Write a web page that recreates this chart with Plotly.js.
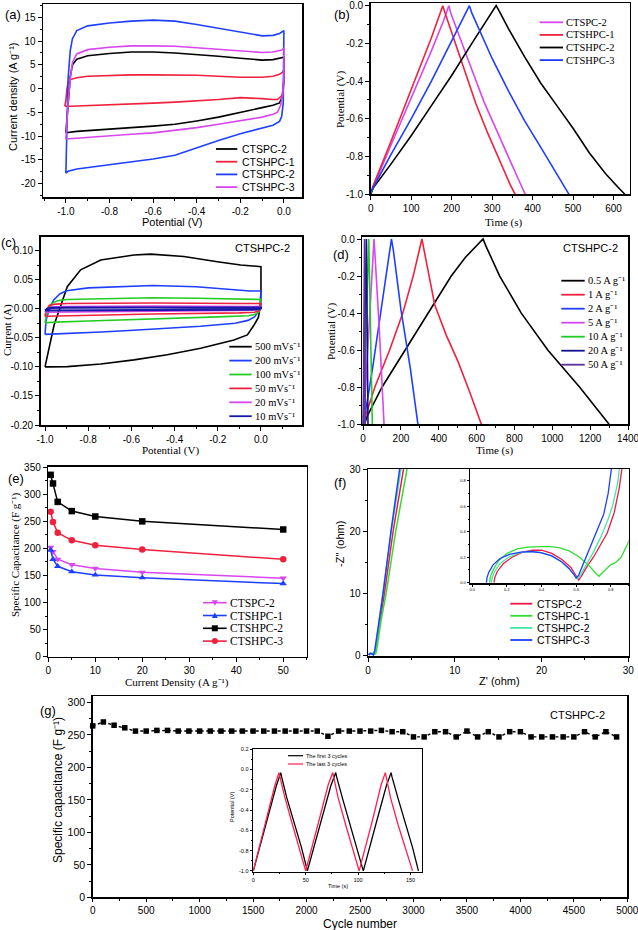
<!DOCTYPE html>
<html><head><meta charset="utf-8">
<script src="https://cdn.plot.ly/plotly-3.0.1.min.js"></script>
<style>html,body{margin:0;padding:0;background:#fff}#chart{width:638px;height:930px}</style>
</head><body><div id="chart"></div>
<script>
// ---------------- (a) CV curves, current density vs potential ----------------
const aNames = ['CTSPC-2','CTSHPC-1','CTSHPC-2','CTSHPC-3'];
const aX_CTSPC2 = [-1.0,-0.995,-0.99,-0.98,-0.97,-0.95,-0.9,-0.8,-0.7,-0.6,-0.5,-0.4,-0.3,-0.2,-0.1,-0.05,-0.01,0.0,0.0,-0.005,-0.02,-0.05,-0.1,-0.2,-0.3,-0.4,-0.5,-0.6,-0.7,-0.8,-0.9,-0.95,-1.0];
const aY_CTSPC2 = [-9.3,-6,-2,2.5,5,6.2,6.9,7.4,7.7,7.7,7.5,7.2,6.8,6.4,6.0,6.1,6.4,6.6,2,-1.5,-3.0,-3.5,-4.0,-5.0,-6.0,-6.8,-7.5,-7.9,-8.2,-8.5,-8.8,-9.0,-9.3];
const aX_CTSHPC1 = [-1.005,-1.0,-0.995,-0.99,-0.98,-0.95,-0.9,-0.8,-0.7,-0.6,-0.5,-0.4,-0.3,-0.2,-0.1,-0.05,-0.02,-0.005,0.0,0.0,-0.005,-0.01,-0.03,-0.05,-0.1,-0.2,-0.3,-0.4,-0.5,-0.6,-0.7,-0.8,-0.9,-0.98,-1.005];
const aY_CTSHPC1 = [-3.7,-2.5,0,1.2,1.9,2.3,2.6,2.8,2.9,2.9,2.9,2.8,2.6,2.4,2.4,2.6,3.0,3.5,4.0,2.0,-0.5,-1.5,-2.3,-2.3,-2.1,-1.9,-2.3,-2.65,-2.85,-3.05,-3.25,-3.4,-3.55,-3.7,-3.7];
const aX_CTSHPC2 = [-1.0,-0.995,-0.99,-0.98,-0.97,-0.95,-0.9,-0.8,-0.7,-0.6,-0.5,-0.4,-0.3,-0.2,-0.1,-0.05,-0.02,0.0,0.0,-0.003,-0.01,-0.02,-0.05,-0.1,-0.2,-0.3,-0.4,-0.5,-0.6,-0.7,-0.8,-0.9,-0.95,-0.99,-1.0];
const aY_CTSHPC2 = [-17.8,-5,2,8,10.5,12.2,13.2,13.8,14.2,14.4,14.2,13.5,12.7,11.8,11.1,11.2,11.6,12.2,2,-3,-5.8,-6.9,-7.7,-8.3,-9.5,-10.9,-12.5,-14.0,-14.8,-15.4,-15.9,-16.5,-16.9,-17.4,-17.8];
const aX_CTSHPC3 = [-1.0,-0.995,-0.99,-0.98,-0.97,-0.95,-0.9,-0.8,-0.7,-0.6,-0.5,-0.4,-0.3,-0.2,-0.1,-0.05,-0.01,0.0,0.0,-0.005,-0.015,-0.03,-0.05,-0.1,-0.2,-0.3,-0.4,-0.5,-0.6,-0.7,-0.8,-0.9,-0.95,-1.0];
const aY_CTSHPC3 = [-10.6,-6,-3,2,5.5,7.3,8.2,8.7,9.0,9.0,8.9,8.6,8.3,7.9,7.6,7.7,8.1,8.5,3,-1,-3.5,-5,-5.4,-6.0,-6.8,-7.5,-8.2,-8.8,-9.3,-9.6,-9.9,-10.2,-10.4,-10.6];

// ---------------- (b) GCD curves, potential vs time ----------------
const bNames = ['CTSPC-2','CTSHPC-1','CTSHPC-2','CTSHPC-3'];
const bT_CTSPC2 = [0,5,50,100,150,180,193,198,220,250,280,310,340,365,382];
const bV_CTSPC2 = [-1,-0.97,-0.74,-0.49,-0.24,-0.08,0,-0.04,-0.17,-0.34,-0.51,-0.66,-0.80,-0.92,-1.0];
const bT_CTSHPC1 = [0,5,50,100,150,170,178,184,200,230,260,290,320,345,357];
const bV_CTSHPC1 = [-1,-0.96,-0.72,-0.45,-0.17,-0.05,0,-0.04,-0.14,-0.33,-0.52,-0.68,-0.83,-0.95,-1];
const bT_CTSHPC2 = [0,5,50,100,150,200,250,290,310,318,340,380,420,460,500,540,580,610,628];
const bV_CTSHPC2 = [-1.0,-0.97,-0.84,-0.69,-0.53,-0.37,-0.2,-0.07,0.0,-0.03,-0.12,-0.27,-0.41,-0.53,-0.65,-0.78,-0.89,-0.96,-1.0];
const bT_CTSHPC3 = [0,5,50,100,150,200,230,244,250,270,300,340,380,420,460,490];
const bV_CTSHPC3 = [-1,-0.97,-0.79,-0.60,-0.40,-0.19,-0.06,0.0,-0.04,-0.14,-0.28,-0.45,-0.61,-0.75,-0.89,-1.0];

// ---------------- (c) CV of CTSHPC-2 at scan rates ----------------
const cNames = ['500 mVs⁻¹','200 mVs⁻¹','100 mVs⁻¹','50 mVs⁻¹','20 mVs⁻¹','10 mVs⁻¹'];
const cX_500 = [-1.0,-0.958,-0.897,-0.835,-0.742,-0.588,-0.511,-0.357,-0.202,-0.094,0.0,0.0,-0.005,-0.012,-0.032,-0.063,-0.125,-0.279,-0.434,-0.588,-0.742,-0.897,-0.99,-1.0];
const cY_500 = [-0.100,-0.028,0.038,0.067,0.084,0.0925,0.094,0.090,0.081,0.0753,0.0725,0.03,0.0,-0.015,-0.028,-0.045,-0.0537,-0.068,-0.079,-0.088,-0.095,-0.0995,-0.100,-0.100];
const cX_200 = [-1.0,-0.995,-0.98,-0.96,-0.93,-0.9,-0.8,-0.6,-0.5,-0.3,-0.2,-0.05,0.0,0.0,-0.005,-0.03,-0.06,-0.12,-0.28,-0.43,-0.59,-0.74,-0.9,-1.0];
const cY_200 = [-0.044,-0.02,0.0,0.015,0.026,0.031,0.036,0.039,0.040,0.038,0.035,0.0305,0.0305,0.01,-0.002,-0.014,-0.020,-0.025,-0.030,-0.034,-0.037,-0.040,-0.043,-0.044];
const cX_100 = [-1.0,-0.99,-0.97,-0.94,-0.9,-0.7,-0.5,-0.3,-0.1,0.0,0.0,-0.01,-0.03,-0.06,-0.2,-0.5,-0.8,-0.95,-1.0];
const cY_100 = [-0.024,-0.005,0.009,0.014,0.016,0.018,0.019,0.018,0.016,0.016,0.004,-0.006,-0.010,-0.012,-0.014,-0.017,-0.021,-0.023,-0.024];
const cX_50 = [-1.0,-0.995,-0.98,-0.95,-0.9,-0.5,-0.1,0.0,0.0,-0.01,-0.03,-0.1,-0.5,-0.9,-1.0];
const cY_50 = [-0.013,-0.003,0.006,0.008,0.009,0.010,0.009,0.009,0.002,-0.004,-0.006,-0.007,-0.009,-0.012,-0.013];
const cX_20 = [-1.0,-0.99,-0.97,-0.9,-0.5,-0.1,0.0,0.0,-0.02,-0.1,-0.5,-0.9,-1.0];
const cY_20 = [-0.006,0.0,0.003,0.004,0.0045,0.004,0.004,0.001,-0.002,-0.003,-0.004,-0.005,-0.006];
const cX_10 = [-1.0,-0.99,-0.97,-0.9,-0.5,-0.1,0.0,0.0,-0.02,-0.1,-0.5,-0.9,-1.0];
const cY_10 = [-0.003,0.0,0.0015,0.002,0.0022,0.002,0.002,0.0005,-0.001,-0.0015,-0.002,-0.0025,-0.003];

// ---------------- (d) GCD of CTSHPC-2 at current densities ----------------
const dNames = ['0.5 A g⁻¹','1 A g⁻¹','2 A g⁻¹','5 A g⁻¹','10 A g⁻¹','20 A g⁻¹','50 A g⁻¹'];
const dT_05 = [8,20,100,223,343,466,540,590,620,634,650,722,836,977,1145,1300];
const dV_05 = [-1.0,-0.96,-0.8,-0.6,-0.4,-0.2,-0.1,-0.045,-0.012,0,-0.04,-0.2,-0.4,-0.6,-0.8,-1.0];
const dT_1 = [5,15,62,140,210,265,295,311,330,379,440,502,565,625];
const dV_1 = [-1.0,-0.95,-0.8,-0.6,-0.4,-0.2,-0.07,0,-0.1,-0.356,-0.52,-0.662,-0.83,-1.0];
const dT_2 = [3,10,50,100,140,150,160,200,250,290];
const dV_2 = [-1,-0.95,-0.70,-0.36,-0.07,0,-0.06,-0.38,-0.70,-1.0];
const dT_5 = [2,20,45,58,65,85,111];
const dV_5 = [-1,-0.68,-0.23,0,-0.12,-0.47,-1];
const dT_10 = [1,15,30,35,49];
const dV_10 = [-1,-0.5,0,-0.25,-1];
const dT_20 = [1,9,17.5,20,26];
const dV_20 = [-1,-0.52,0,-0.28,-1];
const dT_50 = [0.5,4.5,8,9,11.5];
const dV_50 = [-1,-0.5,0,-0.3,-1];

// ---------------- (e) specific capacitance vs current density ----------------
const eNames = ['CTSPC-2','CTSHPC-1','CTSHPC-2','CTSHPC-3'];
const eCurrent = [0.5,1,2,5,10,20,50];
const e_CTSPC2 = [202,194,180,170,163,156,145];
const e_CTSHPC1 = [197,180,167,157,151,146,135];
const e_CTSHPC2 = [336,320,286,269,259,250,235];
const e_CTSHPC3 = [268,249,229,215,206,198,180];

// ---------------- (f) Nyquist plots ----------------
const fNames = ['CTSPC-2','CTSHPC-1','CTSHPC-2','CTSHPC-3'];
const fX_CTSPC2 = [0.125,0.13,0.145,0.18,0.23,0.29,0.35,0.40,0.46,0.52,0.57,0.60,0.615,0.63,0.66,0.70,0.74,0.78,0.82,0.85,0.87,0.92,1.4,1.9,2.9,4.1];
const fY_CTSPC2 = [0,0.04,0.09,0.15,0.20,0.24,0.255,0.255,0.23,0.18,0.12,0.06,0.02,0.05,0.12,0.20,0.29,0.39,0.55,0.75,0.95,1.4,6,10,20,30];
const fX_CTSHPC1 = [0.10,0.105,0.12,0.15,0.20,0.26,0.32,0.38,0.44,0.50,0.56,0.62,0.67,0.71,0.732,0.76,0.80,0.83,0.86,0.90,0.95,1.0,1.05,1.5,2.1,3.2,4.5];
const fY_CTSHPC1 = [0,0.05,0.10,0.17,0.23,0.265,0.28,0.285,0.285,0.275,0.25,0.20,0.14,0.08,0.05,0.09,0.14,0.16,0.20,0.31,0.5,0.8,1.2,5.5,10,20,30];
const fX_CTSHPC2 = [0.11,0.115,0.13,0.16,0.21,0.27,0.33,0.39,0.45,0.51,0.56,0.59,0.607,0.625,0.66,0.70,0.74,0.78,0.81,0.84,0.855,0.9,1.3,1.7,2.7,3.8];
const fY_CTSHPC2 = [0,0.04,0.09,0.15,0.20,0.235,0.245,0.24,0.215,0.17,0.11,0.06,0.03,0.06,0.14,0.24,0.35,0.48,0.60,0.78,0.95,1.5,5.5,10,20,30];
const fX_CTSHPC3 = [0.082,0.085,0.095,0.12,0.16,0.22,0.28,0.34,0.40,0.46,0.52,0.56,0.59,0.60,0.615,0.64,0.67,0.70,0.73,0.76,0.785,0.80,0.815,0.86,1.3,1.75,2.65,3.65];
const fY_CTSHPC3 = [0,0.04,0.08,0.14,0.19,0.225,0.24,0.245,0.235,0.21,0.16,0.11,0.06,0.035,0.06,0.14,0.24,0.34,0.43,0.54,0.70,0.82,0.95,1.5,5.5,10,20,30];

// ---------------- (g) cycling stability ----------------
const gCycles = [0,100,200,300,400,500,600,700,800,900,1000,1100,1200,1300,1400,1500,1600,1700,1800,1900,2000,2100,2200,2300,2400,2500,2600,2700,2800,2900,3000,3100,3200,3300,3400,3500,3600,3700,3800,3900,4000,4100,4200,4300,4400,4500,4600,4700,4800,4900];
const gCap = [264,270,265,261,256,256,257,257,256,256,256,256,256,256,256,256,256,256,256,256,256,256,248,256,256,256,256,257,255,255,247,247,255,255,247,256,247,255,247,255,255,247,247,247,247,247,255,247,255,247];
const gInsetNames = ['The first 3 cycles','The last 3 cycles'];
const gT_first = [0,13,22,26.2,27,32,39,46,51.6,65,74,78.7,79.5,85,92,99,105,118,127,131.5,132.3,138,145,152,157.6];
const gV_first = [-1.0,-0.50,-0.16,-0.03,-0.07,-0.28,-0.53,-0.77,-1.0,-0.50,-0.16,-0.03,-0.07,-0.28,-0.53,-0.77,-1.0,-0.50,-0.16,-0.03,-0.07,-0.28,-0.53,-0.77,-1.0];
const gT_last = [0,12.5,20.5,24.5,25.3,30,37,44,50,63,71.5,75.8,76.6,81,88,95,101,114,122,126,126.8,131,138,145,152];
const gV_last = [-1.0,-0.49,-0.16,-0.03,-0.07,-0.27,-0.53,-0.78,-1.0,-0.49,-0.15,-0.03,-0.07,-0.28,-0.54,-0.78,-1.0,-0.49,-0.15,-0.03,-0.07,-0.28,-0.54,-0.78,-1.0];

// ---------------- styling / layout helpers ----------------
const W = 638, H = 930;
const SANS = '"Liberation Sans", Arial, sans-serif';
const SERIF = '"Liberation Serif", "Times New Roman", serif';
const fx = p => p / W;
const fy = p => 1 - p / H;
const BLACK='#000000', RED='#f0213e', BLUE='#1f3fff', MAG='#d846ef', GREEN='#22cc22', NAVY='#1818a8', NAVY2='#101090', PURPLE='#6030a0', FGREEN='#33dd33', AQUA='#40e8a0', FRED='#f01848', GRED='#ff1f4f';

const traces = [];
function addLine(x, y, color, xa, ya, width, extra) {
  traces.push(Object.assign({type:'scatter', mode:'lines', x:x, y:y, xaxis:xa, yaxis:ya,
    line:{color:color, width:width || 1.6}, hoverinfo:'skip', showlegend:false}, extra || {}));
}
function axis(o) {
  const a = {domain:o.domain, range:o.range, anchor:o.anchor, showgrid:false, zeroline:false,
    showline:true, mirror:true, linecolor:'#000', linewidth:o.lw || 1.5, ticks:'outside',
    ticklen:o.tl || 4, tickwidth:1, tickcolor:'#000', fixedrange:true, ticklabeloverflow:'allow',
    tickfont:{family:SANS, size:o.fs || 10, color:'#000'}};
  if (o.minor) a.minor = {ticks:'outside', ticklen:o.mtl || 2, tickcolor:'#000', tickwidth:1, tickmode:'linear', dtick:o.minor, tick0:0, showgrid:false};
  if (o.vals) { a.tickmode = 'array'; a.tickvals = o.vals; a.ticktext = o.vals.map(v => v.toFixed(o.dec || 0)); }
  else { a.tickmode = 'linear'; a.dtick = o.dtick; a.tick0 = 0; }
  return a;
}
const shapes = [], annotations = [];
function label(text, x, y, o) {
  o = o || {};
  annotations.push({text:text, xref:'paper', yref:'paper', x:fx(x), y:fy(y), xanchor:o.xa || 'left', yanchor:'middle',
    showarrow:false, textangle:o.rot || 0, borderpad:0,
    font:{family:o.ff || SANS, size:o.fs || 11, color:o.color || '#000'}});
}
function legendLine(x0, x1, y, color, width) {
  shapes.push({type:'line', xref:'paper', yref:'paper', x0:fx(x0), x1:fx(x1), y0:fy(y), y1:fy(y), line:{color:color, width:width || 1.6}});
}
function markerShape(sym, cx, cy, s, color) {
  const h = s / 2;
  if (sym === 'square') shapes.push({type:'rect', xref:'paper', yref:'paper', x0:fx(cx-h), x1:fx(cx+h), y0:fy(cy+h), y1:fy(cy-h), fillcolor:color, line:{width:0}});
  else if (sym === 'circle') shapes.push({type:'circle', xref:'paper', yref:'paper', x0:fx(cx-h), x1:fx(cx+h), y0:fy(cy+h), y1:fy(cy-h), fillcolor:color, line:{width:0}});
  else if (sym === 'triangle-up') shapes.push({type:'path', xref:'paper', yref:'paper', path:`M${fx(cx-h)},${fy(cy+h*0.8)} L${fx(cx+h)},${fy(cy+h*0.8)} L${fx(cx)},${fy(cy-h*1.0)} Z`, fillcolor:color, line:{width:0}});
  else shapes.push({type:'path', xref:'paper', yref:'paper', path:`M${fx(cx-h)},${fy(cy-h*0.8)} L${fx(cx+h)},${fy(cy-h*0.8)} L${fx(cx)},${fy(cy+h*1.0)} Z`, fillcolor:color, line:{width:0}});
}

// ---------------- traces ----------------
const aX = [aX_CTSPC2, aX_CTSHPC1, aX_CTSHPC2, aX_CTSHPC3], aY = [aY_CTSPC2, aY_CTSHPC1, aY_CTSHPC2, aY_CTSHPC3];
const aColors = [BLACK, RED, BLUE, MAG];
aX.forEach((x, i) => addLine(x, aY[i], aColors[i], 'x', 'y', 1.6, {name:aNames[i]}));
const bT = [bT_CTSPC2, bT_CTSHPC1, bT_CTSHPC2, bT_CTSHPC3], bV = [bV_CTSPC2, bV_CTSHPC1, bV_CTSHPC2, bV_CTSHPC3];
const bColors = [MAG, RED, BLACK, BLUE];
bT.forEach((t, i) => addLine(t, bV[i], bColors[i], 'x2', 'y2', 1.6, {name:bNames[i]}));
const cX = [cX_500, cX_200, cX_100, cX_50, cX_20, cX_10], cY = [cY_500, cY_200, cY_100, cY_50, cY_20, cY_10];
const cColors = [BLACK, BLUE, GREEN, RED, MAG, NAVY];
cX.forEach((x, i) => addLine(x, cY[i], cColors[i], 'x3', 'y3', i === 5 ? 2.2 : 1.6, {name:cNames[i]}));
const dT = [dT_05, dT_1, dT_2, dT_5, dT_10, dT_20, dT_50], dV = [dV_05, dV_1, dV_2, dV_5, dV_10, dV_20, dV_50];
const dColors = [BLACK, RED, BLUE, MAG, GREEN, NAVY2, PURPLE];
dT.forEach((t, i) => addLine(t, dV[i], dColors[i], 'x4', 'y4', 1.6, {name:dNames[i]}));
const eVals = [e_CTSPC2, e_CTSHPC1, e_CTSHPC2, e_CTSHPC3];
const eColors = [MAG, BLUE, BLACK, RED];
const eSymbols = ['triangle-down', 'triangle-up', 'square', 'circle'];
eVals.forEach((v, i) => traces.push({type:'scatter', mode:'lines+markers', x:eCurrent, y:v, xaxis:'x5', yaxis:'y5',
  name:eNames[i], line:{color:eColors[i], width:1.5}, marker:{color:eColors[i], symbol:eSymbols[i], size:6.5},
  hoverinfo:'skip', showlegend:false, cliponaxis:false}));
const fX = [fX_CTSPC2, fX_CTSHPC1, fX_CTSHPC2, fX_CTSHPC3], fY = [fY_CTSPC2, fY_CTSHPC1, fY_CTSHPC2, fY_CTSHPC3];
const fColors = [FRED, FGREEN, AQUA, BLUE];
fX.forEach((x, i) => addLine(x, fY[i], fColors[i], 'x6', 'y6', 1.5, {name:fNames[i]}));
fX.forEach((x, i) => addLine(x, fY[i], fColors[i], 'x7', 'y7', 1.3, {name:fNames[i]}));
traces.push({type:'scatter', mode:'lines+markers', x:gCycles, y:gCap, xaxis:'x8', yaxis:'y8', name:'CTSHPC-2',
  line:{color:BLACK, width:1.4, dash:'3px,2.5px'}, marker:{color:BLACK, symbol:'square', size:5.5},
  hoverinfo:'skip', showlegend:false, cliponaxis:false});
addLine(gT_first, gV_first, BLACK, 'x9', 'y9', 1.3, {name:gInsetNames[0]});
addLine(gT_last, gV_last, GRED, 'x9', 'y9', 1.3, {name:gInsetNames[1]});

// ---------------- axes ----------------
const layout = {
  width:W, height:H, margin:{l:0, r:0, t:0, b:0}, paper_bgcolor:'#fff', plot_bgcolor:'#fff', showlegend:false,
  xaxis: axis({domain:[fx(43), fx(302)], range:[-1.105, 0.083], anchor:'y', vals:[-1,-0.8,-0.6,-0.4,-0.2,0], dec:1, minor:0.1}),
  yaxis: axis({domain:[fy(197), fy(4)], range:[-22.8, 17.8], anchor:'x', vals:[-20,-15,-10,-5,0,5,10,15], minor:2.5}),
  xaxis2: axis({domain:[fx(370.7), fx(629.7)], range:[0, 640], anchor:'y2', dtick:100, minor:50}),
  yaxis2: axis({domain:[fy(194.3), fy(3)], range:[-1.0, 0.014], anchor:'x2', vals:[-1,-0.8,-0.6,-0.4,-0.2,0], dec:1, minor:0.1}),
  xaxis3: axis({domain:[fx(40.7), fx(302)], range:[-1.02, 0.19], anchor:'y3', vals:[-1,-0.8,-0.6,-0.4,-0.2,0], dec:1, minor:0.1}),
  yaxis3: axis({domain:[fy(425), fy(236.7)], range:[-0.2, 0.124], anchor:'x3', vals:[-0.2,-0.15,-0.1,-0.05,0,0.05,0.1], dec:2, minor:0.025}),
  xaxis4: axis({domain:[fx(362.3), fx(628)], range:[-4, 1400], anchor:'y4', dtick:200, minor:100}),
  yaxis4: axis({domain:[fy(424.3), fy(236.7)], range:[-1.0, 0.0124], anchor:'x4', vals:[-1,-0.8,-0.6,-0.4,-0.2,0], dec:1, minor:0.1}),
  xaxis5: axis({domain:[fx(48.3), fx(306.7)], range:[0, 55], anchor:'y5', dtick:10, minor:5}),
  yaxis5: axis({domain:[fy(656.7), fy(466.7)], range:[0, 351], anchor:'x5', dtick:50, minor:25}),
  xaxis6: axis({domain:[fx(368), fx(628.7)], range:[0, 30.05], anchor:'y6', dtick:10, minor:5}),
  yaxis6: axis({domain:[fy(656), fy(469)], range:[-0.16, 30], anchor:'x6', dtick:10, minor:5}),
  xaxis7: axis({domain:[fx(469.7), fx(628.7)], range:[-0.015, 0.904], anchor:'y7', vals:[0,0.2,0.4,0.6,0.8], dec:1, minor:0.1, fs:4, tl:2, mtl:1, lw:1.2}),
  yaxis7: axis({domain:[fy(583.3), fy(469)], range:[-0.005, 0.894], anchor:'x7', vals:[0,0.2,0.4,0.6,0.8], dec:1, minor:0.1, fs:4, tl:2, mtl:1, lw:1.2}),
  xaxis8: axis({domain:[fx(92.7), fx(627.3)], range:[0, 5000], anchor:'y8', dtick:500, minor:250, fs:10, tl:3}),
  yaxis8: axis({domain:[fy(897.3), fy(696)], range:[0, 310], anchor:'x8', dtick:50, minor:25, fs:10.5}),
  xaxis9: axis({domain:[fx(253.3), fx(422)], range:[0, 161], anchor:'y9', dtick:50, minor:25, fs:5.5, tl:2.5, mtl:1.5, lw:1.2}),
  yaxis9: axis({domain:[fy(871.7), fy(749.3)], range:[-1.008, 0.2], anchor:'x9', vals:[-1,-0.8,-0.6,-0.4,-0.2,0,0.2], dec:1, minor:0.1, fs:5.5, tl:2.5, mtl:1.5, lw:1.2}),
  shapes: shapes, annotations: annotations
};

// ---------------- panel labels ----------------
[['(a)',4,15],['(b)',333,15],['(c)',0,243],['(d)',332,255],['(e)',7,479],['(f)',333,482],['(g)',39,710]]
  .forEach(p => label(p[0], p[1], p[2], {fs:13}));

// ---------------- axis titles ----------------
label('Current density (A g⁻¹)', 13, 97, {xa:'center', rot:-90, fs:11});
label('Potential (V)', 172, 222, {xa:'center', fs:11});
label('Potential (V)', 340, 100, {xa:'center', rot:-90, fs:11, ff:SERIF});
label('Time (s)', 504, 222, {xa:'center', fs:11, ff:SERIF});
label('Current (A)', 7, 330, {xa:'center', rot:-90, fs:11, ff:SERIF});
label('Potential (V)', 170, 451, {xa:'center', fs:11, ff:SERIF});
label('Potential (V)', 332, 332, {xa:'center', rot:-90, fs:11, ff:SERIF});
label('Time (s)', 495, 451, {xa:'center', fs:11, ff:SERIF});
label('Specific Capacitance (F g⁻¹)', 15, 555, {xa:'center', rot:-90, fs:11, ff:SERIF});
label('Current Density (A g⁻¹)', 177, 682.5, {xa:'center', fs:11, ff:SERIF});
label("-Z'' (ohm)", 340, 544, {xa:'center', rot:-90, fs:11});
label("Z' (ohm)", 499, 681, {xa:'center', fs:11});
label('Specific capacitance (F g⁻¹)', 58, 790, {xa:'center', rot:-90, fs:12});
label('Cycle number', 360, 923.5, {xa:'center', fs:12});
label('Potential (V)', 232, 807, {xa:'center', rot:-90, fs:5.5});
label('Time (s)', 338, 886, {xa:'center', fs:5.5});
label('CTSHPC-2', 262, 248, {xa:'center', fs:11});
label('CTSHPC-2', 590, 248, {xa:'center', fs:11});
label('CTSHPC-2', 577, 715, {xa:'center', fs:11});

// ---------------- legends ----------------
function legend(names, colors, x0, x1, xt, y0, dy, fs, ff, lw, syms) {
  names.forEach((n, i) => {
    const y = y0 + i * dy;
    legendLine(x0, x1, y, colors[i], lw);
    if (syms) markerShape(syms[i], (x0 + x1) / 2, y, 6, colors[i]);
    label(n, xt, y, {fs:fs, ff:ff});
  });
}
legend(aNames, aColors, 216, 237.3, 240.7, 149, 12.7, 10.5, SANS, 1.8);
legend(bNames, bColors, 539.7, 563, 565.3, 22.3, 12.6, 10.5, SERIF, 1.8);
legend(cNames, cColors, 229.3, 251.7, 254.3, 346.7, 13.9, 10.5, SERIF, 1.8);
legend(dNames, dColors, 561.3, 584.7, 587.3, 280.7, 14, 10.5, SERIF, 1.8);
legend(eNames, eColors, 203, 226.7, 229.3, 602.7, 12.8, 11.5, SERIF, 1.6, eSymbols);
legend(fNames, fColors, 510.3, 532.3, 536.3, 603.7, 12.1, 10.5, SANS, 1.8);
legend(gInsetNames, [BLACK, GRED], 288, 303, 305, 755.7, 8.3, 5.5, SANS, 1.2);

Plotly.newPlot('chart', traces, layout, {staticPlot:true, displayModeBar:false});
</script></body></html>
